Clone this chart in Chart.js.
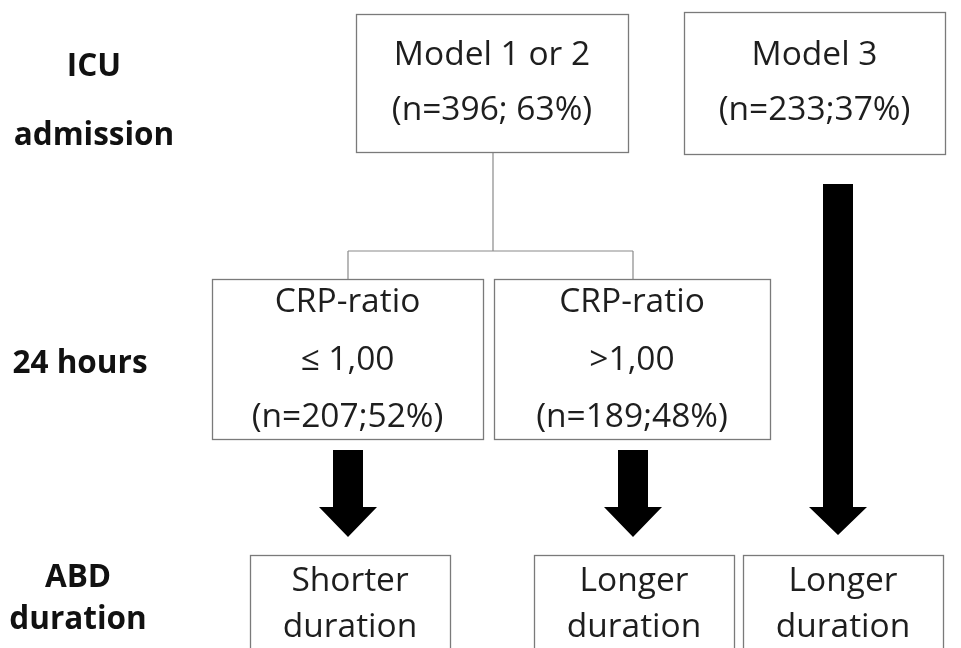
<!DOCTYPE html>
<html>
<head>
<meta charset="utf-8">
<script src="https://cdn.jsdelivr.net/npm/chart.js@4.4.1/dist/chart.umd.min.js"></script>
<style>
  html, body { margin: 0; padding: 0; background: #fff; }
  #wrap { width: 961px; height: 648px; position: relative; }
</style>
</head>
<body>
<div id="wrap"><canvas id="flowChart"></canvas></div>
<script>
// stage labels down the left side
const stageLabels = [["ICU", "admission"], ["24 hours"], ["ABD", "duration"]];
const stageLabelX = [94, 80, 78];
const stageLabelY = [[67, 136], [364], [578, 620]];

// boxes: text lines, and extent in chart units [x1, y1, x2, y2]
const boxTexts = [
    ["Model 1 or 2", "(n=396; 63%)"],
    ["Model 3", "(n=233;37%)"],
    ["CRP-ratio", "\u2264 1,00", "(n=207;52%)"],
    ["CRP-ratio", ">1,00", "(n=189;48%)"],
    ["Shorter", "duration"],
    ["Longer", "duration"],
    ["Longer", "duration"]
];
const boxExtents = [
    [356, 14, 628, 152],
    [684, 12, 945, 154],
    [212, 279, 483, 439],
    [494, 279, 770, 439],
    [250, 555, 450, 670],
    [534, 555, 734, 670],
    [743, 555, 943, 670]
];
const boxLineY = [
    [55, 110],
    [55, 110],
    [302, 360, 417],
    [302, 360, 417],
    [581, 627],
    [581, 627],
    [581, 627]
];

// thin connector from Model 1 or 2 to both CRP boxes
const connectorX = [493, 348, 633];
const connectorY = [152, 251, 279];

// block arrows: centre x, shaft top, head base, tip
const arrowX = [348, 633, 838];
const arrowTop = [450, 450, 184];
const arrowHeadBase = [507, 507, 507];
const arrowTip = [537, 537, 535];

const fontFamily = "'Open Sans', Lato, sans-serif";

const flowPlugin = {
    id: "flow",
    afterDraw(chart) {
        const ctx = chart.ctx;
        const xs = chart.scales.x;
        const ys = chart.scales.y;
        const px = v => xs.getPixelForValue(v);
        const py = v => ys.getPixelForValue(v);

        ctx.save();

        // connector lines
        ctx.strokeStyle = "#8a8a8a";
        ctx.lineWidth = 1.2;
        ctx.beginPath();
        ctx.moveTo(px(connectorX[0]), py(connectorY[0]));
        ctx.lineTo(px(connectorX[0]), py(connectorY[1]));
        ctx.moveTo(px(connectorX[1]), py(connectorY[1]));
        ctx.lineTo(px(connectorX[2]), py(connectorY[1]));
        ctx.moveTo(px(connectorX[1]), py(connectorY[1]));
        ctx.lineTo(px(connectorX[1]), py(connectorY[2]));
        ctx.moveTo(px(connectorX[2]), py(connectorY[1]));
        ctx.lineTo(px(connectorX[2]), py(connectorY[2]));
        ctx.stroke();

        // boxes
        ctx.strokeStyle = "#7a7a7a";
        ctx.lineWidth = 1.3;
        ctx.fillStyle = "#1e1e1e";
        ctx.textAlign = "center";
        ctx.textBaseline = "middle";
        ctx.font = "33.5px " + fontFamily;
        boxExtents.forEach((b, i) => {
            const x1 = px(b[0]), y1 = py(b[1]), x2 = px(b[2]), y2 = py(b[3]);
            ctx.strokeRect(x1 + 0.5, y1 + 0.5, x2 - x1, y2 - y1);
            const cx = (x1 + x2) / 2;
            boxTexts[i].forEach((t, j) => {
                ctx.fillText(t, cx, py(boxLineY[i][j]));
            });
        });

        // block arrows
        ctx.fillStyle = "#000";
        const shaftHalf = 15, headHalf = 29;
        arrowX.forEach((ax, i) => {
            const cx = px(ax);
            ctx.beginPath();
            ctx.moveTo(cx - shaftHalf, py(arrowTop[i]));
            ctx.lineTo(cx + shaftHalf, py(arrowTop[i]));
            ctx.lineTo(cx + shaftHalf, py(arrowHeadBase[i]));
            ctx.lineTo(cx + headHalf, py(arrowHeadBase[i]));
            ctx.lineTo(cx, py(arrowTip[i]));
            ctx.lineTo(cx - headHalf, py(arrowHeadBase[i]));
            ctx.lineTo(cx - shaftHalf, py(arrowHeadBase[i]));
            ctx.closePath();
            ctx.fill();
        });

        // stage labels
        ctx.fillStyle = "#111";
        ctx.font = "bold 31.5px " + fontFamily;
        stageLabels.forEach((lines, i) => {
            lines.forEach((t, j) => {
                ctx.fillText(t, px(stageLabelX[i]), py(stageLabelY[i][j]));
            });
        });

        ctx.restore();
    }
};

const nodePoints = boxExtents.map(b => ({ x: (b[0] + b[2]) / 2, y: (b[1] + b[3]) / 2 }));

new Chart(document.getElementById("flowChart").getContext("2d"), {
    type: "scatter",
    data: {
        datasets: [{
            label: "nodes",
            data: nodePoints,
            pointRadius: 0
        }]
    },
    options: {
        responsive: true,
        maintainAspectRatio: false,
        animation: false,
        layout: { padding: 0 },
        plugins: {
            legend: { display: false },
            tooltip: { enabled: false }
        },
        scales: {
            x: { type: "linear", min: 0, max: 961, display: false },
            y: { type: "linear", min: 0, max: 648, reverse: true, display: false }
        }
    },
    plugins: [flowPlugin]
});
</script>
</body>
</html>
